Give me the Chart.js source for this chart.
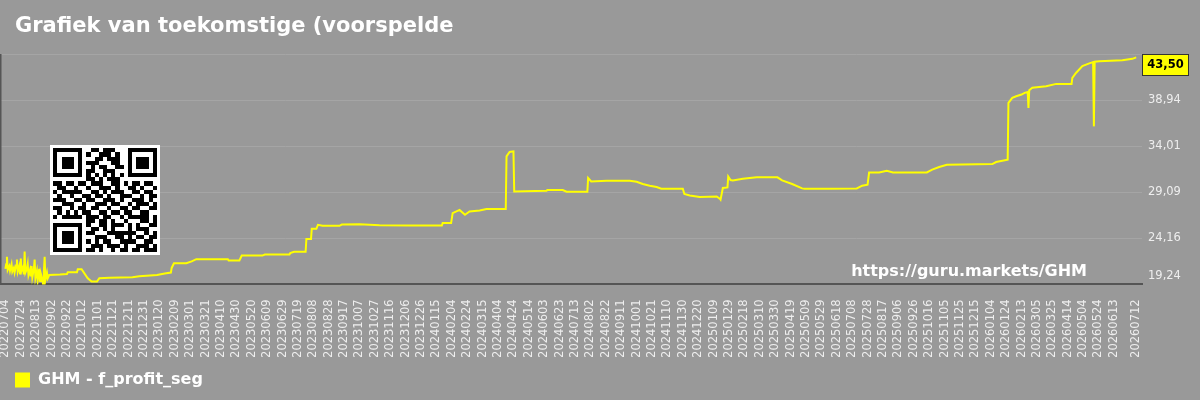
<!DOCTYPE html>
<html>
<head>
<meta charset="utf-8">
<title>GHM - f_profit_seg</title>
<script src="https://cdn.jsdelivr.net/npm/chart.js@4.4.1/dist/chart.umd.min.js"></script>
<style>
    html, body { margin: 0; padding: 0; background: #999999; }
    #wrap { width: 1200px; height: 400px; }
</style>
</head>
<body>
<div id="wrap"><canvas id="ghmChart" width="1200" height="400"></canvas></div>
<script>
// =========================
// Chart data
// =========================

const chartTitle = "Grafiek van toekomstige (voorspelde";
const seriesName = "GHM - f_profit_seg";
const siteUrl = "https://guru.markets/GHM";

const dates = [
    "20220704", "20220705", "20220706", "20220707", "20220709", "20220710", "20220712", "20220713",
    "20220715", "20220716", "20220718", "20220719", "20220720", "20220722", "20220723", "20220724",
    "20220725", "20220727", "20220728", "20220729", "20220730", "20220801", "20220802", "20220803",
    "20220805", "20220806", "20220807", "20220808", "20220810", "20220811", "20220812", "20220814",
    "20220815", "20220817", "20220818", "20220819", "20220821", "20220822", "20220823", "20220824",
    "20220825", "20220827", "20220828", "20220830", "20220913", "20220922", "20220923", "20221005",
    "20221006", "20221011", "20221019", "20221024", "20221031", "20221103", "20221116", "20221216",
    "20221225", "20230117", "20230127", "20230204", "20230205", "20230208", "20230224", "20230303",
    "20230309", "20230419", "20230420", "20230504", "20230507", "20230603", "20230606", "20230708",
    "20230709", "20230714", "20230729", "20230730", "20230805", "20230806", "20230812", "20230814",
    "20230820", "20230911", "20230914", "20231007", "20231020", "20231102", "20231211", "20240122",
    "20240123", "20240203", "20240205", "20240214", "20240221", "20240227", "20240311", "20240320",
    "20240414", "20240415", "20240419", "20240424", "20240425", "20240606", "20240607", "20240627",
    "20240702", "20240729", "20240730", "20240803", "20240823", "20240922", "20241001", "20241009",
    "20241018", "20241027", "20241102", "20241130", "20241202", "20241209", "20241222", "20250113",
    "20250117", "20250118", "20250121", "20250127", "20250128", "20250131", "20250203", "20250216",
    "20250306", "20250402", "20250408", "20250421", "20250504", "20250507", "20250609", "20250714",
    "20250721", "20250728", "20250730", "20250812", "20250822", "20250830", "20251013", "20251020",
    "20251029", "20251108", "20260106", "20260111", "20260126", "20260127", "20260201", "20260206",
    "20260213", "20260217", "20260221", "20260222", "20260223", "20260227", "20260317", "20260330",
    "20260419", "20260420", "20260425", "20260503", "20260512", "20260517", "20260518", "20260519",
    "20260525", "20260624", "20260707", "20260712"
];

const values = [
    20.9, 21.4, 22.2, 20.8, 21.2, 20.7, 21.4, 20.6,
    21.0, 20.5, 21.3, 21.9, 20.6, 21.2, 20.4, 22.0,
    20.7, 21.1, 20.3, 22.75, 20.5, 20.9, 21.4, 20.2,
    20.8, 20.1, 21.2, 20.0, 20.9, 21.9, 19.9, 20.7,
    19.7, 20.9, 19.6, 20.4, 19.8, 19.2, 20.6, 22.2,
    19.7, 20.5, 19.9, 20.25, 20.3, 20.35, 20.55, 20.55,
    20.87, 20.87, 19.9, 19.54, 19.54, 19.9, 19.95, 20.0,
    20.1, 20.25, 20.4, 20.5, 21.0, 21.5, 21.5, 21.7,
    21.94, 21.94, 21.8, 21.8, 22.32, 22.32, 22.43, 22.43,
    22.58, 22.72, 22.72, 24.08, 24.08, 25.18, 25.18, 25.61,
    25.5, 25.5, 25.64, 25.66, 25.62, 25.57, 25.54, 25.54,
    25.79, 25.79, 26.86, 27.2, 26.68, 27.03, 27.14, 27.29,
    27.29, 32.92, 33.39, 33.46, 29.18, 29.25, 29.33, 29.33,
    29.14, 29.14, 30.61, 30.25, 30.32, 30.32, 30.21, 29.97,
    29.79, 29.65, 29.46, 29.46, 28.9, 28.75, 28.58, 28.64,
    28.4, 28.29, 29.54, 29.6, 30.78, 30.4, 30.35, 30.54,
    30.68, 30.68, 30.35, 29.97, 29.5, 29.46, 29.45, 29.5,
    29.79, 29.9, 31.21, 31.21, 31.39, 31.21, 31.21, 31.5,
    31.79, 32.03, 32.1, 32.32, 32.57, 38.64, 39.18, 39.35,
    39.53, 39.71, 39.8, 38.1, 40.0, 40.25, 40.42, 40.67,
    40.67, 41.32, 41.86, 42.57, 42.86, 43.0, 36.13, 43.04,
    43.1, 43.2, 43.35, 43.5
];

// y axis ticks (right side)
const yTickValues = [19.24, 24.165, 29.09, 34.015, 38.94, 43.865];
const yTickLabels = ["19,24", "24,16", "29,09", "34,01", "38,94", ""];

// one date label every 20 days, plus the last date
const tickStep = 20;

// QR code picture in the plot (25 x 25 modules)
const qrRows = [
    "1111111001101110001111111",
    "1000001010011101001000001",
    "1011101000110111001011101",
    "1011101011100011001011101",
    "1011101001011001101011101",
    "1000001011001110001000001",
    "1111111010101010101111111",
    "0000000011010111000000000",
    "1101101101110011010110110",
    "0110010010011101001101001",
    "1011111001101011100110110",
    "0100100110110100111001011",
    "1110011011001110100111010",
    "0011100100111011001011101",
    "1100101101100100110110011",
    "0101010110011011011001100",
    "1011111011101100101111101",
    "0000000011011010010001101",
    "1111111010011011101010011",
    "1000001001101010001011100",
    "1011101011000111111100101",
    "1011101000111001101011011",
    "1011101010101100111100110",
    "1000001001110111010011101",
    "1111111011010010110110111"
];

// =========================
// Helpers
// =========================

const dayMs = 86400000;
const startUtc = Date.UTC(+dates[0].slice(0, 4), +dates[0].slice(4, 6) - 1, +dates[0].slice(6, 8));

function toDay(s) {
    return (Date.UTC(+s.slice(0, 4), +s.slice(4, 6) - 1, +s.slice(6, 8)) - startUtc) / dayMs;
}

function toLabel(day) {
    const d = new Date(startUtc + Math.round(day) * dayMs);
    const mm = String(d.getUTCMonth() + 1).padStart(2, "0");
    const dd = String(d.getUTCDate()).padStart(2, "0");
    return d.getUTCFullYear() + mm + dd;
}

function fmt(v) {
    return v.toFixed(2).replace(".", ",");
}

const lastDay = toDay(dates[dates.length - 1]);
const tickDays = [];
for (let d = 0; d <= lastDay - tickStep; d += tickStep) {
    tickDays.push(d);
}
tickDays.push(lastDay);

const points = dates.map((d, i) => ({ x: toDay(d), y: values[i] }));

// =========================
// Extra drawing (title, labels, watermark, QR)
// =========================

const overlay = {
    id: "overlay",
    beforeDraw(chart) {
        const c = chart.ctx;
        c.save();
        c.fillStyle = "#999999";
        c.fillRect(0, 0, chart.width, chart.height);
        c.restore();
    },
    afterDraw(chart) {
        const c = chart.ctx;
        const area = chart.chartArea;
        const yScale = chart.scales.y;
        c.save();

        // title
        c.fillStyle = "#ffffff";
        c.font = "bold 21px 'DejaVu Sans'";
        c.textAlign = "left";
        c.textBaseline = "alphabetic";
        c.fillText(chartTitle, 15, 31.5);

        // left axis line
        c.fillStyle = "#555555";
        c.fillRect(area.left, area.top, 1.5, area.bottom - area.top);

        // y tick labels
        c.fillStyle = "#eeeeee";
        c.font = "11.5px 'DejaVu Sans'";
        c.textBaseline = "middle";
        yTickValues.forEach((v, i) => {
            const y = Math.min(yScale.getPixelForValue(v), area.bottom - 8);
            c.fillText(yTickLabels[i], area.right + 6, y);
        });

        // last value box
        const last = values[values.length - 1];
        const boxH = 21;
        const boxY = Math.max(area.top, yScale.getPixelForValue(last) - boxH / 2);
        c.fillStyle = "#ffff00";
        c.fillRect(area.right + 0.5, boxY + 0.5, 46, boxH);
        c.strokeStyle = "#333333";
        c.lineWidth = 1;
        c.strokeRect(area.right + 0.5, boxY + 0.5, 46, boxH);
        c.fillStyle = "#000000";
        c.font = "bold 11.5px 'DejaVu Sans'";
        c.textAlign = "center";
        c.fillText(fmt(last), area.right + 23.5, boxY + boxH / 2 + 1);

        // watermark
        c.fillStyle = "#ffffff";
        c.font = "bold 16px 'DejaVu Sans'";
        c.textAlign = "right";
        c.textBaseline = "alphabetic";
        c.fillText(siteUrl, area.right - 55, area.bottom - 8.5);

        // QR code
        const qx = 50, qy = 145, qs = 110, cell = 4.14;
        c.fillStyle = "#ffffff";
        c.fillRect(qx, qy, qs, qs);
        c.fillStyle = "#000000";
        qrRows.forEach((row, r) => {
            for (let k = 0; k < row.length; k++) {
                if (row[k] === "1") {
                    const x0 = Math.round(qx + 3.3 + k * cell);
                    const y0 = Math.round(qy + 3.3 + r * cell);
                    const x1 = Math.round(qx + 3.3 + (k + 1) * cell);
                    const y1 = Math.round(qy + 3.3 + (r + 1) * cell);
                    c.fillRect(x0, y0, x1 - x0, y1 - y0);
                }
            }
        });

        c.restore();
    }
};

// =========================
// Chart
// =========================

Chart.defaults.font.family = "'DejaVu Sans', sans-serif";

const chart = new Chart(document.getElementById("ghmChart"), {
    type: "line",
    data: {
        datasets: [{
            label: seriesName,
            data: points,
            borderColor: "#ffff00",
            backgroundColor: "#ffff00",
            borderWidth: 2,
            pointRadius: 0,
            tension: 0
        }]
    },
    options: {
        responsive: false,
        animation: false,
        layout: {
            padding: { top: 54, left: 0, right: 0, bottom: 2 }
        },
        plugins: {
            title: { display: false },
            tooltip: { enabled: false },
            legend: {
                position: "bottom",
                align: "start",
                labels: {
                    color: "#ffffff",
                    boxWidth: 15,
                    boxHeight: 15,
                    padding: 15,
                    font: { size: 16, weight: "bold" },
                    generateLabels: (ch) =>
                        Chart.defaults.plugins.legend.labels.generateLabels(ch)
                            .map(l => ({ ...l, lineWidth: 0 }))
                }
            }
        },
        scales: {
            x: {
                type: "linear",
                min: -7,
                max: lastDay + 7.5,
                afterBuildTicks: (s) => { s.ticks = tickDays.map(v => ({ value: v })); },
                afterFit: (s) => {
                    s.height = 72.6;
                    s.paddingLeft = 0;
                    s.paddingRight = 0;
                },
                ticks: {
                    autoSkip: false,
                    maxRotation: 90,
                    minRotation: 90,
                    padding: 15,
                    color: "#eeeeee",
                    font: { size: 11.5 },
                    callback: (v) => toLabel(v)
                },
                grid: { display: false, drawTicks: false, tickLength: 0 },
                border: { display: true, color: "#555555", width: 2 }
            },
            y: {
                position: "right",
                min: yTickValues[0],
                max: yTickValues[yTickValues.length - 1],
                afterBuildTicks: (s) => { s.ticks = yTickValues.map(v => ({ value: v })); },
                afterFit: (s) => { s.width = 58; },
                ticks: { display: false },
                grid: { color: "#a5a5a5", lineWidth: 1, drawTicks: false },
                border: { display: false }
            }
        }
    },
    plugins: [overlay]
});
</script>
</body>
</html>
